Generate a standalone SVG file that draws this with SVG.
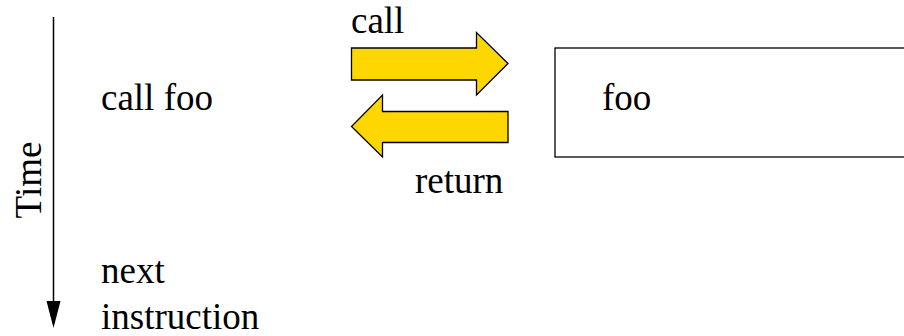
<svg xmlns="http://www.w3.org/2000/svg" width="904" height="336" viewBox="0 0 904 336">
  <style>
    text { font-family: "Liberation Serif", "Times New Roman", serif; font-size: 37px; fill: #000; }
    .flow { fill: #FFD700; stroke: #000; stroke-width: 1.3; stroke-linejoin: miter; }
    .box { fill: #fff; stroke: #000; stroke-width: 1.3; }
    .axis { stroke: #000; stroke-width: 1.5; fill: none; }
    .axis-head { fill: #000; }
  </style>

  <!-- time axis -->
  <g id="time-axis">
    <line class="axis" x1="53.5" y1="17" x2="53.5" y2="302"/>
    <path class="axis-head" d="M46.5,301 L60.5,301 L53.5,328 Z"/>
    <text transform="translate(41,180) rotate(-90)" text-anchor="middle">Time</text>
  </g>

  <!-- caller side -->
  <g id="caller">
    <text x="101" y="110">call foo</text>
  </g>
  <g id="next-instruction">
    <text x="101" y="283">next</text>
    <text x="101" y="329">instruction</text>
  </g>

  <!-- callee box, open past the right edge -->
  <g id="foo">
    <rect class="box" x="555" y="48" width="360" height="109"/>
    <text x="602" y="110">foo</text>
  </g>

  <!-- call / return flows -->
  <g id="connectors">
    <g id="call-arrow">
      <polygon class="flow" points="351.5,48 476.5,48 476.5,32.5 508,63.5 476.5,95 476.5,80 351.5,80"/>
      <text x="351" y="33">call</text>
    </g>
    <g id="return-arrow">
      <polygon class="flow" points="508,111.5 382.5,111.5 382.5,95 351.5,126.5 382.5,157 382.5,142.5 508,142.5"/>
      <text x="415" y="193">return</text>
    </g>
  </g>
</svg>
